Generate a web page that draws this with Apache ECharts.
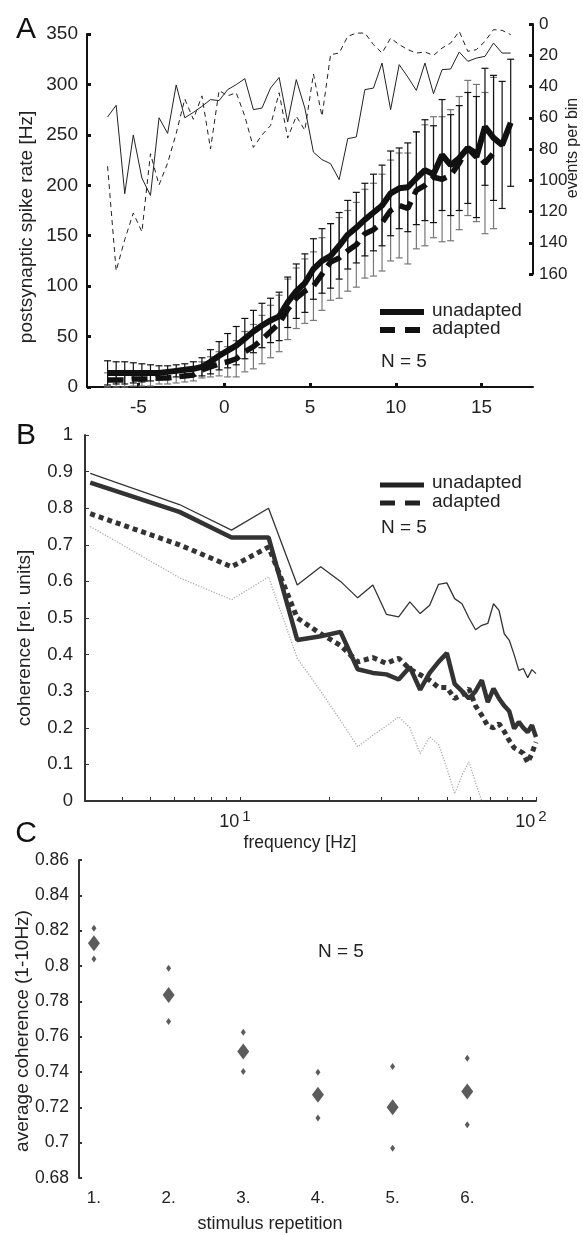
<!DOCTYPE html>
<html>
<head>
<meta charset="utf-8">
<script src="https://cdn.jsdelivr.net/npm/echarts@6/dist/echarts.min.js"></script>
<style>html,body{margin:0;padding:0;background:#fff;}#c{width:583px;height:1235px;}</style>
</head>
<body>
<div id="c"></div>
<script>
// ---------- Panel A data ----------
const binsA = [-6.8,-6.3,-5.8,-5.3,-4.8,-4.3,-3.8,-3.3,-2.8,-2.3,-1.8,-1.3,-0.8,-0.3,0.2,0.7,1.2,1.7,2.2,2.7,3.2,3.7,4.2,4.7,5.2,5.7,6.2,6.7,7.2,7.7,8.2,8.7,9.2,9.7,10.2,10.7,11.2,11.7,12.2,12.7,13.2,13.7,14.2,14.7,15.2,15.7,16.2,16.7];
const rateUnadapted = [14,14,14,14,14,14,14,15,16,17,18,20,25,31,36,41,48,55,61,66,70,84,95,103,117,125,130,140,151,158,166,173,180,192,197,198,207,215,211,230,220,227,237,228,258,247,240,262];
const errUnadapted = [12,11,11,10,9,8,7,6,6,6,7,9,12,14,17,19,20,21,22,22,24,25,27,29,30,32,32,33,34,35,36,38,40,42,40,44,46,50,48,55,50,52,55,60,58,62,63,63];
const rateAdapted = [7,7,7,8,8,8,9,9,10,11,12,17,20,23,25,28,35,40,47,55,63,77,88,95,100,112,124,128,135,141,152,156,163,175,180,177,195,200,208,206,210,222,237,232,222,232];
const errAdapted = [7,7,7,7,7,7,6,6,6,6,6,8,10,12,15,18,20,22,24,26,28,30,30,32,34,36,38,40,40,42,44,46,48,50,52,55,58,60,60,62,65,66,67,68,70,75];
const eventsSolid = [59.5,52,108.6,71,98.6,109.7,60,70,39,60,56.6,52.7,48.4,49,42,38.8,35,54.8,53.8,41,34.2,62.7,35.6,53.8,82,86.8,89.4,99.6,73.4,72.3,42,41,25,54.8,26,33.9,42.5,25,44.6,29.2,28.8,17.9,23.9,21.8,20.7,12.2,18.6,18.6];
const eventsDashed = [91,158,138,121,133,83,103,89,70,48,61,46,80,42.5,46,44,59,79,71,65,44,73,59,68,32,59,19.6,18.6,7.9,5.8,5.8,13.2,18.6,9,13.2,16.4,18.6,17.9,20.1,15.4,12.2,4.7,17.5,16.4,11.1,3.6,4.1,6.8];
const ticksA = [-5,0,5,10,15];

// ---------- Panel B data ----------
const freqB = [3.125,6.25,9.375,12.5,15.625,18.75,21.875,25,28.125,31.25,34.375,37.5,40.625,43.75,46.875,50,53.125,56.25,59.375,62.5,65.625,68.75,71.875,75,78.125,81.25,84.375,87.5,90.625,93.75,96.875,100];
const cohUpper = [0.895,0.81,0.74,0.80,0.59,0.64,0.60,0.555,0.59,0.51,0.503,0.544,0.512,0.535,0.592,0.596,0.553,0.539,0.50,0.468,0.48,0.485,0.539,0.521,0.457,0.439,0.40,0.357,0.362,0.337,0.359,0.348];
const cohUnadapted = [0.87,0.79,0.72,0.72,0.44,0.45,0.462,0.36,0.35,0.346,0.332,0.366,0.304,0.35,0.38,0.404,0.32,0.30,0.28,0.30,0.33,0.27,0.307,0.28,0.26,0.245,0.198,0.216,0.20,0.188,0.207,0.175];
const cohAdapted = [0.785,0.70,0.64,0.694,0.50,0.457,0.425,0.38,0.392,0.376,0.39,0.36,0.345,0.33,0.31,0.31,0.28,0.29,0.307,0.26,0.234,0.205,0.20,0.211,0.19,0.165,0.145,0.138,0.13,0.105,0.13,0.161];
const cohLower = [0.75,0.61,0.55,0.612,0.39,0.30,0.22,0.148,0.18,0.205,0.23,0.20,0.13,0.175,0.155,0.09,0.02,0.07,0.107,0.05,0.0];
const minorTicksB = [4,5,6,7,8,9,10,20,30,40,50,60,70,80,90,100];
const labelTicksB = [10,100];

// ---------- Panel C data ----------
const repetitions = [1,2,3,4,5,6];
const meanC = [0.8129,0.7836,0.7516,0.7271,0.7201,0.729];
const upperC = [0.8214,0.7987,0.7625,0.7399,0.7431,0.7478];
const lowerC = [0.804,0.7686,0.7403,0.7139,0.6969,0.7101];

const FF = 'Liberation Sans, Arial, Helvetica, sans-serif';
const TXT = '#222';
const zip = (xs, ys) => ys.map((y, i) => [xs[i], y]);
const zip3 = (xs, ys, es) => ys.map((y, i) => [xs[i], y, es[i]]);

function errRender(color) {
  return function (params, api) {
    const x = api.value(0), m = api.value(1), e = api.value(2);
    const top = api.coord([x, m + e]);
    const bot = api.coord([x, m - e]);
    const s = { stroke: color, lineWidth: 1.2 };
    return { type: 'group', children: [
      { type: 'line', shape: { x1: top[0], y1: top[1], x2: bot[0], y2: bot[1] }, style: s },
      { type: 'line', shape: { x1: top[0] - 3.5, y1: top[1], x2: top[0] + 3.5, y2: top[1] }, style: s },
      { type: 'line', shape: { x1: bot[0] - 3.5, y1: bot[1], x2: bot[0] + 3.5, y2: bot[1] }, style: s }
    ]};
  };
}

const axLine = { show: true, onZero: false, lineStyle: { color: '#111', width: 2 } };
const lbl = (size, margin) => ({ color: TXT, fontSize: size, fontFamily: FF, margin: margin });

const option = {
  backgroundColor: '#fff',
  animation: false,
  grid: [
    { left: 87, top: 34, width: 446, height: 353 },
    { left: 87, top: 24, width: 446, height: 250 },
    { left: 85, top: 435, width: 451, height: 366 },
    { left: 79, top: 860, width: 448, height: 318 }
  ],
  xAxis: [
    { gridIndex: 0, type: 'value', min: -8, max: 18, axisLine: axLine,
      axisTick: { show: true, inside: true, length: 4, lineStyle: { width: 3, color: '#111' }, customValues: ticksA },
      axisLabel: Object.assign(lbl(19, 11), { customValues: ticksA }), splitLine: { show: false } },
    { gridIndex: 1, type: 'value', min: -8, max: 18, show: false, splitLine: { show: false } },
    { gridIndex: 2, type: 'log', logBase: 10, min: 3, max: 100,
      axisLine: { show: true, onZero: false, lineStyle: { color: '#333', width: 2 } },
      axisTick: { show: true, inside: true, length: 4, lineStyle: { width: 1, color: '#333' }, customValues: minorTicksB },
      axisLabel: { customValues: labelTicksB, margin: 8,
        formatter: function (v) { return '{b|10}{s|' + Math.round(Math.log10(v)) + '}{p|}'; },
        rich: { b: { fontSize: 18, color: TXT, fontFamily: FF },
                s: { fontSize: 15, color: TXT, fontFamily: FF, padding: [0, 0, 12, 3] },
                p: { width: 10 } } },
      splitLine: { show: false }, minorSplitLine: { show: false } },
    { gridIndex: 3, type: 'value', min: 0.8, max: 6.8, axisLine: { show: false }, axisTick: { show: false },
      axisLabel: Object.assign(lbl(17, 12), { customValues: repetitions, formatter: v => v + '.' }), splitLine: { show: false } }
  ],
  yAxis: [
    { gridIndex: 0, type: 'value', min: 0, max: 350, interval: 50, axisLine: axLine,
      axisTick: { show: true, inside: true, length: 4, lineStyle: { width: 3, color: '#111' } },
      axisLabel: lbl(19, 9), splitLine: { show: false } },
    { gridIndex: 1, type: 'value', min: 0, max: 160, interval: 20, inverse: true, position: 'right', axisLine: axLine,
      axisTick: { show: true, inside: true, length: 4, lineStyle: { width: 3, color: '#111' } },
      axisLabel: lbl(17, 6), splitLine: { show: false } },
    { gridIndex: 2, type: 'value', min: 0, max: 1, interval: 0.1,
      axisLine: { show: true, onZero: false, lineStyle: { color: '#333', width: 2 } },
      axisTick: { show: true, inside: true, length: 4, lineStyle: { width: 1, color: '#333' } },
      axisLabel: lbl(18.5, 12), splitLine: { show: false } },
    { gridIndex: 3, type: 'value', min: 0.68, max: 0.86, interval: 0.02,
      axisLine: { show: true, onZero: false, lineStyle: { color: '#333', width: 2 } },
      axisTick: { show: true, inside: true, length: 3, lineStyle: { width: 2, color: '#333' } },
      axisLabel: lbl(17.5, 10), splitLine: { show: false } }
  ],
  series: [
    // Panel A: events per bin (right axis)
    { type: 'line', xAxisIndex: 1, yAxisIndex: 1, data: zip(binsA, eventsSolid), symbol: 'none',
      lineStyle: { color: '#222', width: 1 }, z: 2 },
    { type: 'line', xAxisIndex: 1, yAxisIndex: 1, data: zip(binsA, eventsDashed), symbol: 'none',
      lineStyle: { color: '#222', width: 1, type: [5, 4] }, z: 2 },
    // error bars
    { type: 'custom', xAxisIndex: 0, yAxisIndex: 0, data: zip3(binsA, rateAdapted, errAdapted),
      renderItem: errRender('#777'), z: 3 },
    { type: 'custom', xAxisIndex: 0, yAxisIndex: 0, data: zip3(binsA, rateUnadapted, errUnadapted),
      renderItem: errRender('#111'), z: 3 },
    // means
    { type: 'line', xAxisIndex: 0, yAxisIndex: 0, data: zip(binsA, rateAdapted), symbol: 'none',
      lineStyle: { color: '#111', width: 5.5, type: [16, 8] }, z: 4 },
    { type: 'line', xAxisIndex: 0, yAxisIndex: 0, data: zip(binsA, rateUnadapted), symbol: 'none',
      lineStyle: { color: '#111', width: 6 }, z: 5 },
    // Panel B
    { type: 'line', xAxisIndex: 2, yAxisIndex: 2, data: zip(freqB, cohLower), symbol: 'none',
      lineStyle: { color: '#aaa', width: 1.3, type: [1.2, 1.6] }, z: 2 },
    { type: 'line', xAxisIndex: 2, yAxisIndex: 2, data: zip(freqB, cohUpper), symbol: 'none',
      lineStyle: { color: '#333', width: 1.3 }, z: 2 },
    { type: 'line', xAxisIndex: 2, yAxisIndex: 2, data: zip(freqB, cohAdapted), symbol: 'none',
      lineStyle: { color: '#333', width: 5, type: [5, 4] }, z: 3 },
    { type: 'line', xAxisIndex: 2, yAxisIndex: 2, data: zip(freqB, cohUnadapted), symbol: 'none',
      lineStyle: { color: '#333', width: 4.5 }, z: 4 },
    // Panel C
    { type: 'scatter', xAxisIndex: 3, yAxisIndex: 3, data: zip(repetitions, upperC), symbol: 'diamond',
      symbolSize: [5, 7], itemStyle: { color: '#333' } },
    { type: 'scatter', xAxisIndex: 3, yAxisIndex: 3, data: zip(repetitions, lowerC), symbol: 'diamond',
      symbolSize: [5, 7], itemStyle: { color: '#333' } },
    { type: 'scatter', xAxisIndex: 3, yAxisIndex: 3, data: zip(repetitions, meanC), symbol: 'diamond',
      symbolSize: [12, 16], itemStyle: { color: '#333' } }
  ],
  graphic: [
    // panel letters
    { type: 'text', x: 26, y: 30, style: { text: 'A', font: '30px ' + FF, fill: '#111', align: 'center', verticalAlign: 'middle' } },
    { type: 'text', x: 26, y: 436, style: { text: 'B', font: '30px ' + FF, fill: '#111', align: 'center', verticalAlign: 'middle' } },
    { type: 'text', x: 26, y: 834, style: { text: 'C', font: '30px ' + FF, fill: '#111', align: 'center', verticalAlign: 'middle' } },
    // axis names
    { type: 'text', x: 27, y: 227, rotation: Math.PI / 2, style: { text: 'postsynaptic spike rate [Hz]', font: '19px ' + FF, fill: TXT, align: 'center', verticalAlign: 'middle' } },
    { type: 'text', x: 573, y: 148, rotation: Math.PI / 2, style: { text: 'events per bin', font: '16px ' + FF, fill: TXT, align: 'center', verticalAlign: 'middle' } },
    { type: 'text', x: 25, y: 638, rotation: Math.PI / 2, style: { text: 'coherence [rel. units]', font: '19px ' + FF, fill: TXT, align: 'center', verticalAlign: 'middle' } },
    { type: 'text', x: 300, y: 843, style: { text: 'frequency [Hz]', font: '17.5px ' + FF, fill: TXT, align: 'center', verticalAlign: 'middle' } },
    { type: 'text', x: 23, y: 1031, rotation: Math.PI / 2, style: { text: 'average coherence (1-10Hz)', font: '19px ' + FF, fill: TXT, align: 'center', verticalAlign: 'middle' } },
    { type: 'text', x: 270, y: 1224, style: { text: 'stimulus repetition', font: '18px ' + FF, fill: TXT, align: 'center', verticalAlign: 'middle' } },
    // legend A
    { type: 'line', shape: { x1: 380, y1: 312, x2: 424, y2: 312 }, style: { stroke: '#111', lineWidth: 6 } },
    { type: 'line', shape: { x1: 380, y1: 330, x2: 424, y2: 330 }, style: { stroke: '#111', lineWidth: 6, lineDash: [15, 10] } },
    { type: 'text', x: 432, y: 311, style: { text: 'unadapted', font: '19px ' + FF, fill: TXT, verticalAlign: 'middle' } },
    { type: 'text', x: 432, y: 329, style: { text: 'adapted', font: '19px ' + FF, fill: TXT, verticalAlign: 'middle' } },
    { type: 'text', x: 381, y: 362, style: { text: 'N = 5', font: '19px ' + FF, fill: TXT, verticalAlign: 'middle' } },
    // legend B
    { type: 'line', shape: { x1: 380, y1: 485, x2: 424, y2: 485 }, style: { stroke: '#222', lineWidth: 5 } },
    { type: 'line', shape: { x1: 380, y1: 503, x2: 424, y2: 503 }, style: { stroke: '#222', lineWidth: 5, lineDash: [15, 10] } },
    { type: 'text', x: 432, y: 483, style: { text: 'unadapted', font: '19px ' + FF, fill: TXT, verticalAlign: 'middle' } },
    { type: 'text', x: 432, y: 502, style: { text: 'adapted', font: '19px ' + FF, fill: TXT, verticalAlign: 'middle' } },
    { type: 'text', x: 381, y: 528, style: { text: 'N = 5', font: '19px ' + FF, fill: TXT, verticalAlign: 'middle' } },
    // panel C note
    { type: 'text', x: 318, y: 952, style: { text: 'N = 5', font: '19px ' + FF, fill: TXT, verticalAlign: 'middle' } }
  ]
};

const chart = echarts.init(document.getElementById('c'), null, { renderer: 'canvas' });
chart.setOption(option);
</script>
</body>
</html>
